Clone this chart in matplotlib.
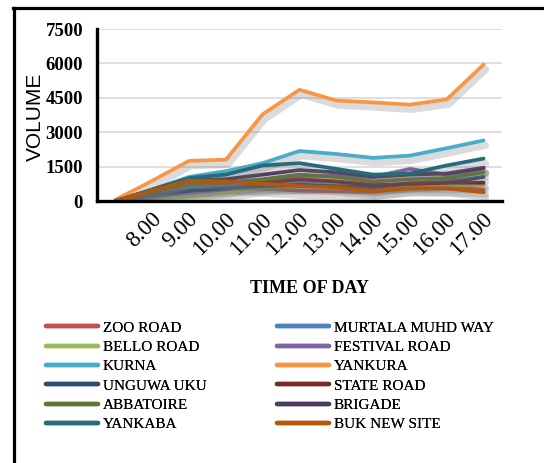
import matplotlib.pyplot as plt
import matplotlib.patheffects as pe
import matplotlib.transforms as mtransforms
from matplotlib.lines import Line2D

# Category axis: first slot has no label
times = ['', '8.00', '9.00', '10.00', '11.00', '12.00',
         '13.00', '14.00', '15.00', '16.00', '17.00']

zoo_road = [0, 350, 700, 650, 550, 450, 420, 400, 600, 580, 500]
murtala_muhd_way = [0, 300, 600, 650, 700, 800, 750, 550, 800, 850, 1450]
bello_road = [0, 100, 200, 350, 600, 650, 750, 650, 700, 700, 700]
festival_road = [0, 200, 350, 500, 800, 1100, 1100, 1050, 1400, 1150, 1400]
kurna = [0, 500, 1050, 1300, 1650, 2180, 2050, 1880, 1980, 2300, 2640]
yankura = [50, 880, 1750, 1800, 3780, 4850, 4380, 4300, 4200, 4430, 5950]
unguwa_uku = [0, 250, 450, 550, 650, 700, 650, 600, 750, 800, 1050]
state_road = [0, 450, 900, 850, 800, 950, 850, 700, 750, 800, 800]
abbatoire = [0, 400, 750, 800, 950, 1150, 1050, 850, 950, 1000, 1250]
brigade = [0, 450, 900, 950, 1150, 1350, 1250, 1050, 1150, 1200, 1450]
yankaba = [0, 500, 1000, 1150, 1550, 1650, 1400, 1150, 1200, 1550, 1850]
buk_new_site = [0, 450, 880, 850, 750, 650, 600, 430, 550, 550, 380]

series = [
    ('ZOO ROAD', zoo_road, '#C0504D'),
    ('MURTALA MUHD WAY', murtala_muhd_way, '#4F81BD'),
    ('BELLO ROAD', bello_road, '#9BBB59'),
    ('FESTIVAL ROAD', festival_road, '#8064A2'),
    ('KURNA', kurna, '#4BACC6'),
    ('YANKURA', yankura, '#F79646'),
    ('UNGUWA UKU', unguwa_uku, '#2C4D75'),
    ('STATE ROAD', state_road, '#772C2A'),
    ('ABBATOIRE', abbatoire, '#5F7530'),
    ('BRIGADE', brigade, '#4D3B62'),
    ('YANKABA', yankaba, '#276A7C'),
    ('BUK NEW SITE', buk_new_site, '#B65708'),
]

serif = 'Liberation Serif'

fig = plt.figure(figsize=(5.44, 4.63), dpi=100)
ax = fig.add_axes([97 / 544, (463 - 201) / 463, 405 / 544, 172 / 463])

x = list(range(len(times)))
handles = {}
for name, vals, color in series:
    line, = ax.plot(x, vals, color=color, lw=2.7, solid_capstyle='round',
                    solid_joinstyle='round', label=name,
                    path_effects=[pe.SimpleLineShadow(offset=(1.5, -3.5), shadow_color='#707070',
                                                      alpha=0.25, linewidth=5),
                                  pe.Normal()])
    handles[name] = line

ax.set_xlim(-0.5, len(times) - 0.5)
ax.set_ylim(0, 7500)
ax.set_yticks([0, 1500, 3000, 4500, 6000, 7500])
ax.yaxis.grid(True, color='#D9D9D9', lw=1.2)
ax.set_axisbelow(True)
for side in ['top', 'right']:
    ax.spines[side].set_visible(False)
for side in ['left', 'bottom']:
    ax.spines[side].set_linewidth(2.4)
    ax.spines[side].set_color('black')
ax.tick_params(axis='both', length=0)
ax.tick_params(axis='y', pad=10)
for lab in ax.get_yticklabels():
    lab.set_fontfamily(serif)
    lab.set_fontweight('bold')
    lab.set_fontsize(13.5)

ax.set_xticks(x[1:])
ax.set_xticklabels(times[1:], rotation=45, ha='right', va='center',
                   rotation_mode='anchor', fontfamily=serif, fontsize=16.5)
ax.tick_params(axis='x', pad=11)
shift = mtransforms.ScaledTranslation(6 / 100, 0, fig.dpi_scale_trans)
for lab in ax.get_xticklabels():
    lab.set_transform(lab.get_transform() + shift)

ax.set_ylabel('VOLUME', fontfamily='Liberation Sans', fontsize=15)
ax.yaxis.set_label_coords(-0.128, 0.49)
ax.text(0.525, -0.51, 'TIME OF DAY', transform=ax.transAxes, ha='center', va='center',
        fontfamily=serif, fontweight='bold', fontsize=13)

# legend in two columns, row-major order like the source
left_names = ['ZOO ROAD', 'BELLO ROAD', 'KURNA', 'UNGUWA UKU', 'ABBATOIRE', 'YANKABA']
right_names = ['MURTALA MUHD WAY', 'FESTIVAL ROAD', 'YANKURA', 'STATE ROAD', 'BRIGADE', 'BUK NEW SITE']
leg_kw = dict(loc='upper left', frameon=False, borderpad=0, borderaxespad=0,
              handlelength=3.4, handletextpad=0.3, labelspacing=0.37,
              prop={'family': serif, 'size': 11})
for names, x0 in [(left_names, 46 / 544), (right_names, 277 / 544)]:
    hs = [Line2D([], [], color=handles[n].get_color(), lw=3.2, solid_capstyle='round') for n in names]
    fig.add_artist(fig.legend(hs, names, bbox_to_anchor=(x0, 1 - 321 / 463), **leg_kw))

# outer frame (top and left edges visible)
fig.add_artist(Line2D([13 / 544, 1], [1 - 8 / 463, 1 - 8 / 463], color='black', lw=2.3,
                      transform=fig.transFigure))
fig.add_artist(Line2D([14 / 544, 14 / 544], [0, 1 - 8 / 463], color='black', lw=2.3,
                      transform=fig.transFigure))

fig.savefig('out.png', dpi=100)
